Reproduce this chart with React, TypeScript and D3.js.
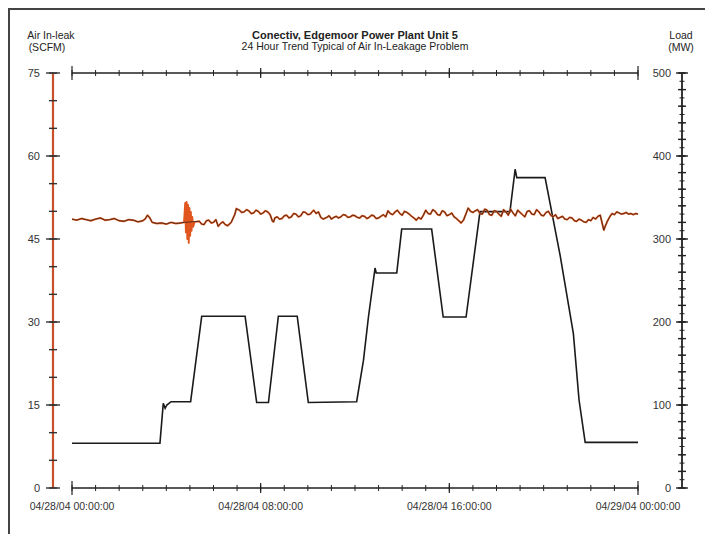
import React, { useEffect, useRef } from 'react';
import * as d3 from 'd3';

const hourTicks = [0, 8, 16, 24];
const dateLabels = ['04/28/04 00:00:00', '04/28/04 08:00:00', '04/28/04 16:00:00', '04/29/04 00:00:00'];
const airTicks = [0, 15, 30, 45, 60, 75];
const loadTicks = [0, 100, 200, 300, 400, 500];

// [hour, MW]
const loadPoints: [number, number][] = [
  [0, 54], [3.73, 54], [3.87, 102], [3.95, 96], [4.02, 100], [4.2, 104], [5.03, 104],
  [5.5, 207], [7.34, 207], [7.83, 103], [8.33, 103], [8.75, 207], [9.55, 207], [10.02, 103],
  [12.07, 104], [12.36, 154], [12.57, 206], [12.85, 265], [12.9, 259], [13.77, 259],
  [13.98, 312], [15.25, 312], [15.74, 206], [16.71, 206], [17.3, 333], [18.57, 333],
  [18.79, 384], [18.86, 374], [20.06, 374], [20.7, 280], [21.26, 186], [21.5, 106], [21.76, 55], [24, 55],
];

// [hour, SCFM]
const airPoints: [number, number][] = [
  [0, 48.6], [0.2, 48.4], [0.4, 48.7], [0.6, 48.5], [0.8, 48.3], [1.0, 48.6], [1.2, 48.8], [1.4, 48.4],
  [1.6, 48.5], [1.8, 48.7], [2.0, 48.3], [2.2, 48.2], [2.4, 48.5], [2.6, 48.4], [2.8, 48.1], [3.0, 48.3],
  [3.1, 48.6], [3.2, 49.3], [3.3, 48.8], [3.4, 48.0], [3.6, 47.8], [3.8, 47.9], [4.0, 47.7], [4.2, 48.0],
  [4.4, 47.8], [4.6, 47.9], [4.75, 48.0],
  [4.8, 51.5], [4.83, 46.2], [4.86, 51.7], [4.89, 45.0], [4.92, 51.2], [4.95, 44.3], [4.98, 50.6],
  [5.01, 45.6], [5.04, 49.9], [5.07, 46.5], [5.1, 49.0], [5.14, 47.2], [5.2, 48.1],
  [5.4, 48.2], [5.5, 47.7], [5.6, 47.6], [5.7, 48.3], [5.8, 48.4], [5.9, 47.9], [6.0, 48.0], [6.1, 48.5],
  [6.2, 47.3], [6.3, 47.8], [6.4, 48.1], [6.5, 47.6], [6.6, 47.4], [6.75, 48.0], [6.9, 49.4], [6.97, 50.5],
  [7.1, 50.2], [7.2, 49.8], [7.3, 49.9], [7.4, 50.3], [7.5, 50.1], [7.6, 49.6], [7.7, 49.7], [7.8, 50.2],
  [7.9, 50.0], [8.0, 49.5], [8.1, 49.7], [8.2, 50.1], [8.3, 49.9], [8.4, 49.4], [8.5, 48.2], [8.55, 48.1],
  [8.6, 48.8], [8.7, 49.0], [8.8, 48.6], [8.9, 48.7], [9.0, 49.2], [9.1, 49.3], [9.2, 48.8], [9.3, 49.0],
  [9.4, 49.6], [9.5, 49.5], [9.6, 49.0], [9.7, 49.2], [9.8, 49.9], [9.9, 49.8], [10.0, 49.4], [10.1, 49.5],
  [10.2, 50.0], [10.25, 50.2], [10.35, 49.6], [10.45, 49.9], [10.55, 48.9], [10.65, 48.6], [10.8, 48.9],
  [10.9, 49.2], [11.0, 48.6], [11.1, 48.9], [11.2, 49.1], [11.3, 48.8], [11.4, 49.0], [11.5, 49.4],
  [11.6, 49.3], [11.7, 48.9], [11.8, 49.0], [11.9, 49.3], [12.0, 49.2], [12.1, 48.9], [12.2, 48.8],
  [12.3, 49.2], [12.4, 49.1], [12.5, 48.7], [12.6, 48.9], [12.7, 49.3], [12.8, 49.2], [12.9, 48.7],
  [13.0, 48.8], [13.1, 49.1], [13.2, 49.4], [13.3, 49.0], [13.4, 50.1], [13.5, 49.6], [13.6, 49.4],
  [13.7, 49.9], [13.8, 50.2], [13.9, 49.6], [14.0, 49.3], [14.1, 50.0], [14.2, 49.8], [14.3, 49.5],
  [14.4, 49.1], [14.5, 48.8], [14.6, 48.4], [14.7, 48.9], [14.8, 48.6], [14.9, 49.3], [15.0, 50.2],
  [15.1, 49.6], [15.2, 49.5], [15.3, 50.3], [15.4, 50.0], [15.5, 49.4], [15.6, 49.3], [15.7, 50.1],
  [15.8, 49.9], [15.9, 49.2], [16.0, 49.4], [16.1, 49.7], [16.2, 49.0], [16.3, 48.7], [16.4, 48.3],
  [16.5, 47.9], [16.6, 48.4], [16.7, 49.5], [16.8, 50.6], [16.9, 50.0], [17.0, 49.8], [17.1, 50.1],
  [17.2, 50.3], [17.3, 49.6], [17.4, 49.5], [17.5, 50.4], [17.6, 50.2], [17.7, 49.4], [17.8, 49.3],
  [17.9, 50.1], [18.0, 50.0], [18.1, 49.5], [18.2, 49.1], [18.3, 50.3], [18.4, 49.9], [18.5, 49.3],
  [18.6, 50.4], [18.7, 49.7], [18.8, 49.2], [18.9, 50.2], [19.0, 49.8], [19.1, 49.4], [19.2, 49.0],
  [19.3, 50.0], [19.4, 50.1], [19.5, 49.5], [19.6, 49.4], [19.7, 50.3], [19.8, 49.9], [19.9, 49.3],
  [20.0, 49.2], [20.1, 49.8], [20.2, 50.0], [20.3, 49.3], [20.4, 49.0], [20.5, 49.4], [20.6, 48.7],
  [20.7, 48.9], [20.8, 49.1], [20.9, 48.6], [21.0, 48.5], [21.1, 48.9], [21.2, 48.8], [21.3, 48.3],
  [21.4, 48.2], [21.5, 48.6], [21.6, 48.4], [21.7, 48.1], [21.8, 48.0], [21.9, 48.5], [22.0, 48.3],
  [22.1, 48.9], [22.2, 48.6], [22.3, 49.1], [22.4, 49.3], [22.45, 48.4], [22.5, 47.5], [22.55, 46.6],
  [22.6, 47.2], [22.7, 48.2], [22.8, 49.0], [22.9, 49.6], [23.0, 49.4], [23.1, 49.9], [23.2, 49.7],
  [23.3, 49.5], [23.4, 49.6], [23.5, 49.8], [23.6, 49.5], [23.7, 49.6], [23.8, 49.4], [23.9, 49.6],
  [24.0, 49.5],
];

const FONT = 'Liberation Sans, Arial, sans-serif';

function App() {
  const chartRef = useRef<SVGSVGElement>(null);

  useEffect(() => {
    const svg = d3.select(chartRef.current);
    svg.selectAll('*').remove();

    const left = 72, right = 638, top = 73, bottom = 488;
    const leftAxisX = 53, rightAxisX = 682;

    const x = d3.scaleLinear().domain([0, 24]).range([left, right]);
    const yAir = d3.scaleLinear().domain([0, 75]).range([bottom, top]);
    const yLoad = d3.scaleLinear().domain([0, 500]).range([bottom, top]);

    // frame
    svg.append('path')
      .attr('d', `M9,534 V9 H705`)
      .attr('fill', 'none')
      .attr('stroke', '#444')
      .attr('stroke-width', 2);

    // titles
    const title = svg.append('g').attr('font-family', FONT).attr('fill', '#222');
    title.append('text').attr('x', 355).attr('y', 39).attr('text-anchor', 'middle')
      .attr('font-size', 11).attr('font-weight', 'bold').text('Conectiv, Edgemoor Power Plant Unit 5');
    title.append('text').attr('x', 355).attr('y', 50).attr('text-anchor', 'middle')
      .attr('font-size', 10.5).text('24 Hour Trend Typical of Air In-Leakage Problem');
    title.append('text').attr('x', 51).attr('y', 39).attr('text-anchor', 'middle')
      .attr('font-size', 10.5).text('Air In-leak');
    title.append('text').attr('x', 47).attr('y', 51).attr('text-anchor', 'middle')
      .attr('font-size', 10.5).text('(SCFM)');
    title.append('text').attr('x', 681).attr('y', 39).attr('text-anchor', 'middle')
      .attr('font-size', 10.5).text('Load');
    title.append('text').attr('x', 681).attr('y', 51).attr('text-anchor', 'middle')
      .attr('font-size', 10.5).text('(MW)');

    // left axis (air in-leak), red spine
    const la = svg.append('g').attr('transform', `translate(${leftAxisX},0)`);
    la.append('line').attr('y1', yAir(0)).attr('y2', yAir(75))
      .attr('stroke', '#c8502a').attr('stroke-width', 2.2);
    la.selectAll('.minor').data(d3.range(0, 76, 5)).enter().append('line')
      .attr('x1', -4).attr('x2', 4)
      .attr('y1', d => yAir(d)).attr('y2', d => yAir(d))
      .attr('stroke', '#333').attr('stroke-width', 1.4);
    la.selectAll('.major').data(airTicks).enter().append('line')
      .attr('x1', -7).attr('x2', 7)
      .attr('y1', d => yAir(d)).attr('y2', d => yAir(d))
      .attr('stroke', '#333').attr('stroke-width', 1.4);
    la.selectAll('text').data(airTicks).enter().append('text')
      .attr('x', -13).attr('y', d => yAir(d) + 4)
      .attr('text-anchor', 'end').attr('font-family', FONT).attr('font-size', 11).attr('fill', '#333')
      .text(d => d);

    // right axis (load)
    const ra = svg.append('g').attr('transform', `translate(${rightAxisX},0)`);
    ra.append('line').attr('y1', yLoad(0)).attr('y2', yLoad(500))
      .attr('stroke', '#222').attr('stroke-width', 1.8);
    ra.selectAll('.tiny').data(d3.range(0, 501, 10)).enter().append('line')
      .attr('x1', -2.5).attr('x2', 2.5)
      .attr('y1', d => yLoad(d)).attr('y2', d => yLoad(d))
      .attr('stroke', '#222').attr('stroke-width', 1);
    ra.selectAll('.minor').data(d3.range(0, 501, 20)).enter().append('line')
      .attr('x1', -4).attr('x2', 4)
      .attr('y1', d => yLoad(d)).attr('y2', d => yLoad(d))
      .attr('stroke', '#222').attr('stroke-width', 1.4);
    ra.selectAll('.major').data(loadTicks).enter().append('line')
      .attr('x1', -6).attr('x2', 6)
      .attr('y1', d => yLoad(d)).attr('y2', d => yLoad(d))
      .attr('stroke', '#222').attr('stroke-width', 1.4);
    ra.selectAll('text').data(loadTicks).enter().append('text')
      .attr('x', -11).attr('y', d => yLoad(d) + 4)
      .attr('text-anchor', 'end').attr('font-family', FONT).attr('font-size', 11).attr('fill', '#333')
      .text(d => d);

    // time axes top and bottom
    [top, bottom].forEach(yy => {
      const g = svg.append('g').attr('transform', `translate(0,${yy})`);
      g.append('line').attr('x1', x(0)).attr('x2', x(24)).attr('stroke', '#222').attr('stroke-width', 1.3);
      g.selectAll('.minor').data(d3.range(0, 25, 1)).enter().append('line')
        .attr('x1', d => x(d)).attr('x2', d => x(d))
        .attr('y1', -3).attr('y2', 3)
        .attr('stroke', '#222').attr('stroke-width', 1);
      g.selectAll('.major').data(hourTicks).enter().append('line')
        .attr('x1', d => x(d)).attr('x2', d => x(d))
        .attr('y1', d => (d === 0 || d === 24 ? -7 : -5)).attr('y2', d => (d === 0 || d === 24 ? 7 : 5))
        .attr('stroke', '#222').attr('stroke-width', 1.2);
    });

    svg.append('g').selectAll('text').data(hourTicks).enter().append('text')
      .attr('x', d => x(d)).attr('y', bottom + 22)
      .attr('text-anchor', 'middle').attr('font-family', FONT).attr('font-size', 10.5).attr('fill', '#333')
      .text((d, i) => dateLabels[i]);

    // series
    const airLine = d3.line<[number, number]>().x(d => x(d[0])).y(d => yAir(d[1]));
    const loadLine = d3.line<[number, number]>().x(d => x(d[0])).y(d => yLoad(d[1]));

    svg.append('path').datum(loadPoints)
      .attr('d', loadLine).attr('fill', 'none')
      .attr('stroke', '#1a1a1a').attr('stroke-width', 1.6);

    svg.append('path').datum(airPoints)
      .attr('d', airLine).attr('fill', 'none')
      .attr('stroke', '#e0561e').attr('stroke-width', 1.9).attr('stroke-linejoin', 'round');
    svg.append('path').datum(airPoints.filter(d => d[0] < 4.78 || d[0] > 5.2))
      .attr('d', airLine).attr('fill', 'none')
      .attr('stroke', '#3a2418').attr('stroke-width', 1).attr('opacity', 0.8);
  }, []);

  return (
    <div>
      <svg ref={chartRef} width={705} height={534}
        style={{ position: 'absolute', left: 0, top: 0, background: '#fff' }}></svg>
    </div>
  );
}

export default App;
